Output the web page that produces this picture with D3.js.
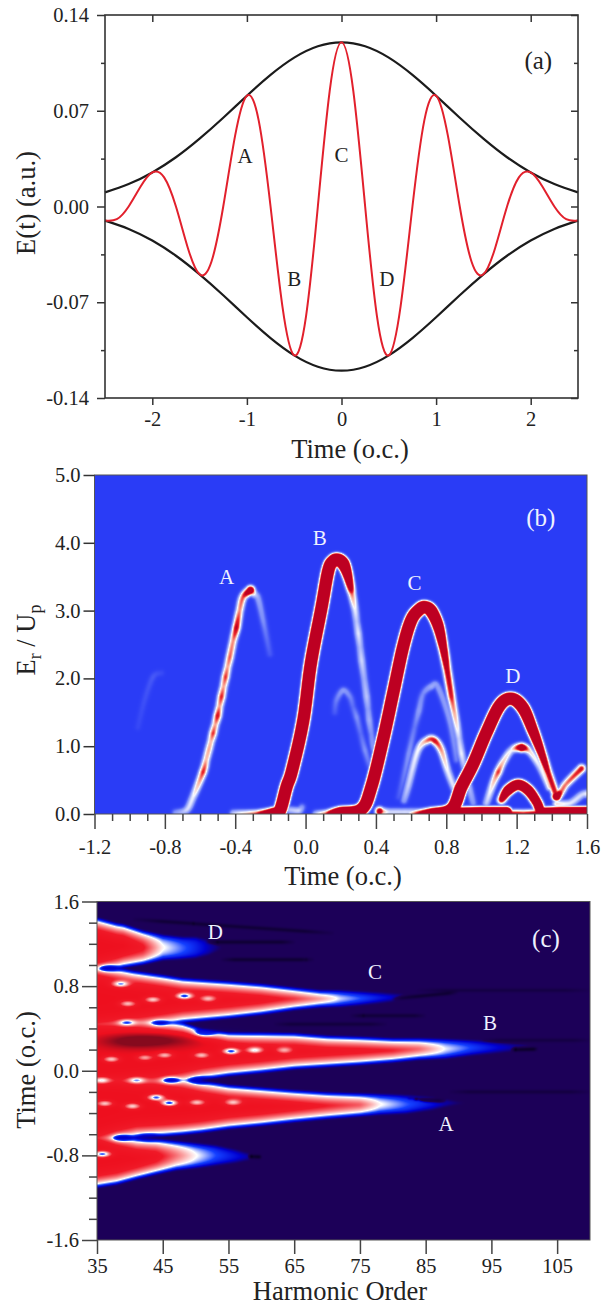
<!DOCTYPE html>
<html lang="en">
<head>
<meta charset="UTF-8">
<title>Field, return energy and time profile</title>
<script src="https://d3js.org/d3.v7.min.js"></script>
<style>
    html, body { margin: 0; padding: 0; background: #fff; }
    svg { display: block; }
    text { font-family: "Liberation Serif", serif; fill: #222; }
</style>
</head>
<body>
<svg id="fig" width="607" height="1306"></svg>
<script>
// panel (a)
var envTime  = [-2.5,-2.25,-2,-1.75,-1.5,-1.25,-1,-0.75,-0.5,-0.25,0,0.25,0.5,0.75,1,1.25,1.5,1.75,2,2.25,2.5];
var envUpper = [0.0103,0.0164,0.0249,0.0360,0.0496,0.0649,0.0810,0.0962,0.1088,0.1171,0.1200,0.1171,0.1088,0.0962,0.0810,0.0649,0.0496,0.0360,0.0249,0.0164,0.0103];
var envLower = [-0.0103,-0.0164,-0.0249,-0.0360,-0.0496,-0.0649,-0.0810,-0.0962,-0.1088,-0.1171,-0.1200,-0.1171,-0.1088,-0.0962,-0.0810,-0.0649,-0.0496,-0.0360,-0.0249,-0.0164,-0.0103];
var fieldTime = [-2.5,-2.375,-2.25,-2.125,-2,-1.875,-1.75,-1.625,-1.5,-1.375,-1.25,-1.125,-1,-0.875,-0.75,-0.625,-0.5,-0.375,-0.25,-0.125,0,
    0.125,0.25,0.375,0.5,0.625,0.75,0.875,1,1.125,1.25,1.375,1.5,1.625,1.75,1.875,2,2.125,2.25,2.375,2.5];
var fieldValue = [-0.0103,-0.0093,0,0.0144,0.0249,0.0213,0,-0.0301,-0.0496,-0.0404,0,0.0516,0.0810,0.0628,0,-0.0728,-0.1088,-0.0803,0,0.0843,0.1200,
    0.0843,0,-0.0803,-0.1088,-0.0728,0,0.0628,0.0810,0.0516,0,-0.0404,-0.0496,-0.0301,0,0.0213,0.0249,0.0144,0,-0.0093,-0.0103];
var fieldTicks = [-0.14,-0.07,0,0.07,0.14];
var fieldMinor = [-0.105,-0.035,0.035,0.105];
var timeTicksA = [-2,-1,0,1,2];
var labelsA = [["(a)",2.08,0.107],["A",-1.02,0.037],["C",0,0.038],["B",-0.5,-0.053],["D",0.48,-0.053]];

// panel (b): trajectories as [time, energy, strength]
var ridgeGhost = [[-0.953,1.28,0.012],[-0.915,1.68,0.02],[-0.867,2.02,0.03],[-0.82,2.08,0.015]];
var ridgeA = [[-0.74,0.02,0.1],[-0.677,0.06,0.25],[-0.639,0.255,0.3],[-0.583,0.62,0.85],[-0.565,0.8,0.5],[-0.55,0.95,0.55],[-0.538,1.07,0.5],[-0.526,1.19,0.8],[-0.513,1.32,0.55],[-0.5,1.45,0.95],[-0.489,1.59,0.55],[-0.478,1.73,0.85],[-0.466,1.88,0.55],[-0.455,2.02,0.8],[-0.443,2.17,0.55],[-0.431,2.31,0.7],[-0.412,2.55,0.6],[-0.393,2.75,1.1],[-0.375,3.0,0.6],[-0.355,3.2,0.75],[-0.313,3.30,2.2]];
var ridgeATail = [[-0.313,3.30,2],[-0.29,3.24,0.25],[-0.269,3.17,0.14],[-0.241,2.85,0.09],[-0.203,2.36,0.03]];
var ridgeB = [[-0.41,0.01,0.2],[-0.279,0.0,0.8],[-0.184,0.02,6],[-0.146,0.05,30],[-0.108,0.40,30],[-0.076,0.65,30],[-0.013,1.38,30],[0.030,2.22,30],[0.091,3.05,30],[0.129,3.59,30],[0.157,3.73,30],[0.186,3.75,30],[0.214,3.69,30],[0.237,3.54,6],[0.262,3.27,0.8]];
var ridgeBTail = [[0.262,3.27,0.8],[0.281,3.02,0.3],[0.29,2.84,0.2],[0.300,2.66,0.28],[0.31,2.46,0.18],[0.319,2.26,0.24],[0.333,2.0,0.15],[0.347,1.73,0.2],[0.355,1.55,0.12],[0.362,1.38,0.16],[0.374,1.18,0.09],[0.385,0.99,0.11],[0.42,0.55,0.04]];
var ridgeB2 = [[0.166,1.5,0.03],[0.176,1.68,0.07],[0.214,1.82,0.12],[0.252,1.73,0.08],[0.27,1.58,0.05],[0.29,1.43,0.09],[0.314,1.18,0.05],[0.338,0.94,0.09],[0.366,0.70,0.05]];
var ridgeBlobs = [[-0.09,0.06,0.2],[-0.04,0.05,0.25],[-0.02,0.1,0.1]];
var ridgeC = [[0.06,0.0,0.2],[0.12,0.0,0.8],[0.1935,0.03,6],[0.317,0.07,30],[0.374,0.40,30],[0.44,1.09,30],[0.497,1.77,30],[0.554,2.46,30],[0.601,2.86,30],[0.649,3.02,30],[0.681,3.05,30],[0.715,2.99,30],[0.753,2.78,14],[0.782,2.46,3],[0.805,2.12,1.2],[0.829,1.73,0.9]];
var ridgeCTail = [[0.829,1.73,0.9],[0.858,1.33,0.4],[0.872,1.11,0.22],[0.886,0.89,0.3],[0.905,0.67,0.16],[0.924,0.45,0.22],[0.953,0.16,0.1]];
var ridgeC2 = [[0.53,0.25,0.03],[0.554,0.50,0.06],[0.587,0.89,0.1],[0.62,1.28,0.06],[0.644,1.52,0.12],[0.668,1.77,0.08],[0.715,1.88,0.15],[0.753,1.87,0.12],[0.82,1.38,0.12],[0.858,0.8,0.07]];
var ridgeC3 = [[0.56,0.2,0.12],[0.582,0.40,0.22],[0.639,0.94,0.32],[0.696,1.09,0.7],[0.734,1.08,1.0],[0.772,0.94,0.6],[0.81,0.62,0.3],[0.858,0.30,0.25]];
var ridgeCBlobs = [[0.421,0.04,1.5],[0.478,0.03,0.25],[0.687,0.03,0.25]];
var ridgeD = [[0.60,0.0,0.4],[0.706,0.02,3],[0.829,0.07,30],[0.886,0.40,30],[0.953,0.74,30],[1.028,1.20,30],[1.104,1.60,30],[1.171,1.70,30],[1.237,1.56,30],[1.294,1.22,10],[1.342,0.89,2.5],[1.38,0.60,1.1],[1.427,0.26,0.9]];
var ridgeD2 = [[1.028,0.16,0.2],[1.066,0.45,0.45],[1.095,0.62,0.8],[1.124,0.77,0.45],[1.171,0.94,0.3],[1.228,0.98,2.2],[1.275,0.92,0.4],[1.332,0.70,0.28],[1.389,0.40,0.45]];
var ridgeD3 = [[1.114,0.21,1.2],[1.152,0.35,7],[1.209,0.43,9],[1.266,0.35,8],[1.313,0.18,5],[1.332,0.06,5]];
var ridgeFloor1 = [[0.876,0.02,8],[1.0,0.02,14],[1.142,0.02,14]];
var ridgeFloor2 = [[1.332,0.02,6],[1.45,0.02,14],[1.6,0.02,16]];
var ridgeFloor3 = [[1.142,0.0,1.2],[1.24,0.0,0.9],[1.33,0.0,1.5]];
var ridgeRight1 = [[1.427,0.26,3],[1.455,0.34,0.7],[1.484,0.45,0.65],[1.569,0.67,1.0]];
var ridgeRight2 = [[1.427,0.15,0.4],[1.503,0.16,0.28],[1.569,0.28,0.25],[1.6,0.3,0.3]];
var ridgesB = [ridgeGhost,ridgeA,ridgeATail,ridgeB,ridgeBTail,ridgeB2,ridgeBlobs,ridgeC,ridgeCTail,ridgeC2,ridgeC3,ridgeCBlobs,ridgeD,ridgeD2,ridgeD3,ridgeFloor1,ridgeFloor2,ridgeFloor3,ridgeRight1,ridgeRight2];
var energyTicks = [0,1,2,3,4,5];
var timeTicksB = [-1.2,-0.8,-0.4,0,0.4,0.8,1.2,1.6];
var timeMinorB = [-1.1,-1,-0.9,-0.7,-0.6,-0.5,-0.3,-0.2,-0.1,0.1,0.2,0.3,0.5,0.6,0.7,0.9,1,1.1,1.3,1.4,1.5];
var labelsB = [["(b)",1.337,4.37],["A",-0.449,3.5],["B",0.08,4.07],["C",0.62,3.4],["D",1.178,2.03]];

// panel (c): bursts as [harmonic, upper time, lower time, peak]
var burstD = [[35,1.45,0.90,1],[38,1.40,0.95,1],[39,1.39,0.97,1],[42,1.33,1.0,0.9],[45,1.29,1.04,0.42],[48,1.27,1.05,0.26],[50,1.27,1.06,0.17],[52,1.24,1.09,0.08],[54,1.18,1.15,0]];
var burstC = [[35,1.02,0.34,1],[38,0.98,0.36,1],[40.5,0.95,0.38,1],[45,0.91,0.42,1],[48,0.88,0.45,1],[55,0.85,0.49,1],[60,0.825,0.525,1],[65,0.79,0.57,0.98],[69,0.765,0.595,0.8],[72,0.765,0.60,0.42],[75,0.755,0.615,0.28],[78,0.745,0.635,0.17],[81,0.73,0.66,0.1],[84,0.70,0.69,0]];
var burstB = [[35,0.54,-0.22,1],[40,0.53,-0.20,1],[45,0.49,-0.17,1],[48,0.46,-0.13,1],[51,0.40,-0.09,1],[55,0.365,-0.055,1],[60,0.365,-0.025,1],[65,0.36,0.01,1],[70,0.335,0.03,1],[75,0.325,0.05,1],[80,0.31,0.075,1],[84,0.31,0.10,0.85],[88,0.305,0.11,0.42],[92,0.295,0.14,0.24],[96,0.275,0.165,0.12],[100,0.25,0.195,0.05],[102,0.225,0.21,0]];
var burstA = [[35,0.03,-0.74,1],[38,0.02,-0.68,1],[41,0.0,-0.64,1],[45,-0.02,-0.625,1],[48,-0.05,-0.61,1],[51,-0.09,-0.59,1],[55,-0.13,-0.555,1],[60,-0.155,-0.525,1],[65,-0.18,-0.49,1],[70,-0.20,-0.46,0.95],[75,-0.21,-0.435,0.85],[78,-0.215,-0.42,0.45],[82,-0.225,-0.41,0.26],[86,-0.245,-0.375,0.14],[88,-0.265,-0.345,0.08],[90,-0.29,-0.32,0.03],[91,-0.30,-0.31,0]];
var burstE = [[35,-0.53,-1.11,1],[38,-0.59,-1.08,1],[41,-0.63,-1.03,1],[44,-0.64,-0.985,0.95],[47,-0.66,-0.945,0.7],[50,-0.68,-0.925,0.42],[53,-0.70,-0.90,0.24],[56,-0.74,-0.875,0.14],[58,-0.775,-0.85,0.08],[60,-0.805,-0.825,0]];
var bursts = [burstD,burstC,burstB,burstA,burstE];
// bright spots in the plateau [harmonic, time, drop]
var spots = [[36.7,0.97,0.9],[38.6,0.82,0.7],[39.7,0.634,0.55],[43.5,0.672,0.58],[48.3,0.706,0.85],[51.9,0.681,0.5],
    [39.5,0.455,0.55],[44.5,0.452,0.55],[51.4,0.36,0.9],[37.2,0.109,0.58],[42.3,0.124,0.5],[45.3,0.147,0.55],[50.9,0.147,0.55],
    [55.4,0.184,0.85],[59,0.194,0.65],[63.5,0.194,0.45],[35.7,-0.09,0.55],[41,-0.09,0.55],[46.2,-0.09,0.85],[50.6,-0.09,0.9],
    [44,-0.253,0.85],[46,-0.304,0.9],[36.2,-0.31,0.58],[40.4,-0.335,0.6],[50.2,-0.30,0.55],[55.7,-0.30,0.5],
    [38.8,-0.634,0.9],[35.8,-0.788,0.85],[42.8,-0.63,0.85]];
var darkPatches = [[40,0.28,0.35],[45,0.29,0.3],[52,0.28,0.12]];
// thin dark streaks [h0, t0, h1, t1, depth]
var streaks = [[40.5,1.43,71,1.30,0.2],[51.6,1.216,65,1.216,0.22],[54,1.05,68,1.05,0.22],[80,0.68,89.8,0.74,0.22],
    [83.7,0.76,110,0.76,0.12],[62,0.44,79,0.44,0.16],[73.5,0.52,85,0.52,0.18],[93.8,0.288,110,0.288,0.12],[98,0.2,102,0.205,0.3],
    [88.7,-0.2,110,-0.2,0.14],[81,-0.27,88,-0.285,0.22],[58,-0.81,60,-0.815,0.3]];
var timeTicksC = [-1.6,-0.8,0,0.8,1.6];
var timeMinorC = [-1.4,-1.2,-1,-0.6,-0.4,-0.2,0.2,0.4,0.6,1,1.2,1.4];
var harmonicTicks = [35,45,55,65,75,85,95,105];
var labelsC = [["(c)",103.3,1.25],["D",53,1.31],["C",77.3,0.93],["B",94.8,0.45],["A",88.1,-0.5]];

var svg = d3.select("#fig");
var tickSize = 20.5, titleSize = 26.5;

// d3.format writes a true minus, the figure has a plain hyphen
function hyphen(spec){
    var f = d3.format(spec);
    return function(d){ return f(d).replace("\u2212", "-"); };
}

// simple 1-2-1 pass over the value grid, edges are held
function soften(vals, w, h){
    var out = new Float32Array(vals.length);
    var i, x, y;
    for(y = 0; y < h; y++){
        for(x = 0; x < w; x++){
            i = y*w + x;
            out[i] = (vals[y*w + Math.max(x-1,0)] + 2*vals[i] + vals[y*w + Math.min(x+1,w-1)])/4;
        }
    }
    for(y = 0; y < h; y++){
        for(x = 0; x < w; x++){
            i = y*w + x;
            vals[i] = (out[Math.max(y-1,0)*w + x] + 2*out[i] + out[Math.min(y+1,h-1)*w + x])/4;
        }
    }
}

function paint(g, x0, y0, w, h, vals, color, passes){
    for(var p = 0; p < passes; p++) soften(vals, w, h);
    var canvas = document.createElement("canvas");
    canvas.width = w;
    canvas.height = h;
    var ctx = canvas.getContext("2d");
    var img = ctx.createImageData(w, h);
    for(var i = 0; i < vals.length; i++){
        var c = d3.rgb(color(vals[i]));
        img.data[4*i] = c.r;
        img.data[4*i+1] = c.g;
        img.data[4*i+2] = c.b;
        img.data[4*i+3] = 255;
    }
    ctx.putImageData(img, 0, 0);
    g.append("image")
        .attr("x", x0).attr("y", y0)
        .attr("width", w).attr("height", h)
        .attr("href", canvas.toDataURL());
}

function styleAxis(sel, tickColor){
    sel.select(".domain").remove();
    sel.selectAll("line").attr("stroke", tickColor).attr("stroke-width", 1.5);
    sel.selectAll("text").attr("font-size", tickSize).style("font-family", '"Liberation Serif", serif').attr("fill", "#222");
}

function addLabels(list, x, y, colour, size){
    svg.append("g").selectAll("text").data(list).join("text")
        .attr("x", function(d){ return x(d[1]); })
        .attr("y", function(d){ return y(d[2]); })
        .attr("text-anchor", "middle")
        .attr("dominant-baseline", "central")
        .attr("font-size", function(d){ return d[0].length > 1 ? size + 4 : size; })
        .style("fill", colour)
        .text(function(d){ return d[0]; });
}

function yTitle(cy, build){
    var t = svg.append("text")
        .attr("transform", "translate(35," + cy + ") rotate(-90)")
        .attr("text-anchor", "middle")
        .attr("font-size", titleSize);
    build(t);
}

function xTitle(cx, base, txt){
    svg.append("text").attr("x", cx).attr("y", base)
        .attr("text-anchor", "middle").attr("font-size", titleSize).text(txt);
}

// ---------- panel (a) ----------
function drawA(){
    var x = d3.scaleLinear().domain([-2.5,2.5]).range([105,578]);
    var y = d3.scaleLinear().domain([-0.14,0.14]).range([398,15]);
    var line = d3.line().curve(d3.curveNatural)
        .x(function(d){ return x(d[0]); })
        .y(function(d){ return y(d[1]); });

    svg.append("path").datum(d3.zip(envTime, envUpper)).attr("d", line)
        .attr("fill", "none").attr("stroke", "#1b1b1b").attr("stroke-width", 2.2);
    svg.append("path").datum(d3.zip(envTime, envLower)).attr("d", line)
        .attr("fill", "none").attr("stroke", "#1b1b1b").attr("stroke-width", 2.2);
    svg.append("path").datum(d3.zip(fieldTime, fieldValue)).attr("d", line)
        .attr("fill", "none").attr("stroke", "#e2202c").attr("stroke-width", 2);

    svg.append("rect").attr("x", 105).attr("y", 15).attr("width", 473).attr("height", 383)
        .attr("fill", "none").attr("stroke", "#333").attr("stroke-width", 1.6);

    svg.append("g").attr("transform", "translate(105,0)")
        .call(d3.axisLeft(y).tickValues(fieldTicks).tickFormat(hyphen(".2f")).tickSize(8).tickPadding(8))
        .call(styleAxis, "#333");
    svg.append("g").attr("transform", "translate(105,0)")
        .call(d3.axisLeft(y).tickValues(fieldMinor).tickFormat("").tickSize(4))
        .call(styleAxis, "#333");
    svg.append("g").attr("transform", "translate(578,0)")
        .call(d3.axisLeft(y).tickValues(fieldTicks).tickFormat("").tickSize(7))
        .call(styleAxis, "#333");
    svg.append("g").attr("transform", "translate(578,0)")
        .call(d3.axisLeft(y).tickValues(fieldMinor).tickFormat("").tickSize(4))
        .call(styleAxis, "#333");
    svg.append("g").attr("transform", "translate(0,398)")
        .call(d3.axisBottom(x).tickValues(timeTicksA).tickFormat(hyphen("d")).tickSize(7).tickPadding(6))
        .call(styleAxis, "#333");
    svg.append("g").attr("transform", "translate(0,15)")
        .call(d3.axisBottom(x).tickValues(timeTicksA).tickFormat("").tickSize(7))
        .call(styleAxis, "#333");

    addLabels(labelsA, x, y, "#222", 21);
    xTitle(350, 458, "Time (o.c.)");
    yTitle(203, function(t){ t.text("E(t) (a.u.)"); });
}

// ---------- panel (b) ----------
function catmull(points){
    var out = [];
    for(var i = 0; i < points.length - 1; i++){
        var p0 = points[Math.max(i-1,0)], p1 = points[i], p2 = points[i+1], p3 = points[Math.min(i+2,points.length-1)];
        var steps = Math.max(2, Math.ceil(Math.hypot(p2[0]-p1[0], p2[1]-p1[1])));
        for(var k = 0; k < steps; k++){
            var u = k/steps, u2 = u*u, u3 = u2*u;
            out.push([
                0.5*(2*p1[0] + (p2[0]-p0[0])*u + (2*p0[0]-5*p1[0]+4*p2[0]-p3[0])*u2 + (3*p1[0]-p0[0]-3*p2[0]+p3[0])*u3),
                0.5*(2*p1[1] + (p2[1]-p0[1])*u + (2*p0[1]-5*p1[1]+4*p2[1]-p3[1])*u2 + (3*p1[1]-p0[1]-3*p2[1]+p3[1])*u3),
                p1[2]*Math.pow(p2[2]/p1[2], u)
            ]);
        }
    }
    out.push(points[points.length-1]);
    return out;
}

function drawB(){
    var x = d3.scaleLinear().domain([-1.2,1.6]).range([94.5,587]);
    var y = d3.scaleLinear().domain([0,5]).range([814,475]);
    var w = 492, h = 339, x0 = 95, y0 = 475;
    var vals = new Float32Array(w*h);
    var sigma = 3.1, reach = 10;

    ridgesB.forEach(function(r){
        var pts = catmull(r.map(function(d){ return [x(d[0]) - x0, y(d[1]) - y0, d[2]]; }));
        pts.forEach(function(p){
            var xa = Math.max(0, Math.floor(p[0]-reach)), xb = Math.min(w-1, Math.ceil(p[0]+reach));
            var ya = Math.max(0, Math.floor(p[1]-reach)), yb = Math.min(h-1, Math.ceil(p[1]+reach));
            for(var j = ya; j <= yb; j++){
                for(var i = xa; i <= xb; i++){
                    var dx = i + 0.5 - p[0], dy = j + 0.5 - p[1];
                    var v = p[2]*Math.exp(-(dx*dx + dy*dy)/(sigma*sigma));
                    if(v > 1.15) v = 1.15;
                    if(v > vals[j*w+i]) vals[j*w+i] = v;
                }
            }
        });
    });

    var color = d3.scaleLinear()
        .domain([0,0.08,0.3,0.5,0.75,1])
        .range(["#2a3cf6","#7a8cfa","#f6f8ff","#fab6a2","#ea2a2e","#bd0022"])
        .clamp(true);

    var g = svg.append("g");
    paint(g, x0, y0, w, h, vals, color, 1);

    svg.append("rect").attr("x", 94.5).attr("y", 475).attr("width", 492.5).attr("height", 339)
        .attr("fill", "none").attr("stroke", "#555").attr("stroke-width", 1);

    svg.append("g").attr("transform", "translate(94.5,0)")
        .call(d3.axisLeft(y).tickValues(energyTicks).tickFormat(hyphen(".1f")).tickSize(11).tickPadding(3))
        .call(styleAxis, "#333");
    svg.append("g").attr("transform", "translate(0,814)")
        .call(d3.axisBottom(x).tickValues(timeTicksB).tickFormat(hyphen(".1f")).tickSize(15).tickPadding(10))
        .call(styleAxis, "#444");
    svg.append("g").attr("transform", "translate(0,814)")
        .call(d3.axisBottom(x).tickValues(timeMinorB).tickFormat("").tickSize(7))
        .call(styleAxis, "#444");

    addLabels(labelsB, x, y, "#eef1ff", 21);
    xTitle(343, 885, "Time (o.c.)");
    yTitle(640, function(t){
        t.append("tspan").text("E");
        t.append("tspan").attr("dy", 6).attr("font-size", 18).text("r");
        t.append("tspan").attr("dy", -6).text(" / U");
        t.append("tspan").attr("dy", 6).attr("font-size", 18).text("p");
    });
}

// ---------- panel (c) ----------
function rowAt(table, h){
    if(h < table[0][0] || h > table[table.length-1][0]) return null;
    var k = d3.bisector(function(d){ return d[0]; }).right(table, h);
    if(k >= table.length) return table[table.length-1];
    var a = table[k-1], b = table[k], u = (h-a[0])/(b[0]-a[0]);
    return [h, a[1]+(b[1]-a[1])*u, a[2]+(b[2]-a[2])*u, a[3]+(b[3]-a[3])*u];
}

function drawC(){
    var x = d3.scaleLinear().domain([35,110]).range([97,590]);
    var y = d3.scaleLinear().domain([-1.6,1.6]).range([1240,901.5]);
    var w = 493, h = 339, x0 = 97, y0 = 901;
    var vals = new Float32Array(w*h);
    var ramp = 11;

    for(var j = 0; j < h; j++){
        var py = y0 + j + 0.5;
        var t = y.invert(py);
        for(var i = 0; i < w; i++){
            var px = x0 + i + 0.5;
            var hh = x.invert(px);
            var best = 0;
            for(var b = 0; b < bursts.length; b++){
                var r = rowAt(bursts[b], hh);
                if(!r || r[3] <= 0) continue;
                var depth = Math.min(py - y(r[1]), y(r[2]) - py);
                if(depth <= 0) continue;
                var u = depth/(ramp*Math.sqrt(r[3]));
                var v = r[3]*(Math.exp(2*u) - 1)/(Math.exp(2*u) + 1);
                if(v > best) best = v;
            }
            vals[j*w+i] = best;
        }
    }

    // spots, dark patches and streaks sit on top of the bursts
    function stamp(cx, cy, sx, sy, amount){
        var xa = Math.max(0, Math.floor(cx - 3*sx - x0)), xb = Math.min(w-1, Math.ceil(cx + 3*sx - x0));
        var ya = Math.max(0, Math.floor(cy - 3*sy - y0)), yb = Math.min(h-1, Math.ceil(cy + 3*sy - y0));
        for(var j = ya; j <= yb; j++){
            for(var i = xa; i <= xb; i++){
                var dx = (x0 + i + 0.5 - cx)/sx, dy = (y0 + j + 0.5 - cy)/sy;
                var next = vals[j*w+i] + amount*Math.exp(-dx*dx - dy*dy);
                vals[j*w+i] = amount < 0 ? Math.max(next, Math.min(vals[j*w+i], 0.1)) : next;
            }
        }
    }
    spots.forEach(function(s){ stamp(x(s[0]), y(s[1]), 8, 2.8, -s[2]); });
    darkPatches.forEach(function(p){ stamp(x(p[0]), y(p[1]), 30, 7, p[2]); });
    streaks.forEach(function(s){
        var n = Math.ceil(x(s[2]) - x(s[0]));
        for(var k = 0; k <= n; k++){
            var u = k/n;
            var fade = Math.min(1, 6*Math.min(u, 1-u) + 0.15);
            var cx = x(s[0] + (s[2]-s[0])*u), cy = y(s[1] + (s[3]-s[1])*u);
            var col = Math.floor(cx - x0);
            if(col < 0 || col >= w) continue;
            for(var j = Math.max(0, Math.floor(cy-4-y0)); j <= Math.min(h-1, Math.ceil(cy+4-y0)); j++){
                var d = (y0 + j + 0.5 - cy)/1.5;
                if(vals[j*w+col] < 0.15) vals[j*w+col] -= s[4]*fade*Math.exp(-d*d);
            }
        }
    });

    var color = d3.scaleLinear()
        .domain([-0.3,0,0.1,0.22,0.38,0.55,0.8,1,1.3])
        .range(["#05001a","#1c0058","#0000d0","#1440ff","#ffffff","#fba0a0","#f01a28","#ee0f1e","#860a1e"])
        .clamp(true);

    var g = svg.append("g");
    paint(g, x0, y0, w, h, vals, color, 2);

    svg.append("rect").attr("x", 97).attr("y", 901.5).attr("width", 493).attr("height", 338.5)
        .attr("fill", "none").attr("stroke", "#555").attr("stroke-width", 1);

    svg.append("g").attr("transform", "translate(97,0)")
        .call(d3.axisLeft(y).tickValues(timeTicksC).tickFormat(hyphen(".1f")).tickSize(15).tickPadding(3))
        .call(styleAxis, "#444");
    svg.append("g").attr("transform", "translate(97,0)")
        .call(d3.axisLeft(y).tickValues(timeMinorC).tickFormat("").tickSize(8))
        .call(styleAxis, "#444");
    svg.append("g").attr("transform", "translate(0,1240)")
        .call(d3.axisBottom(x).tickValues(harmonicTicks).tickFormat(hyphen("d")).tickSize(14).tickPadding(4))
        .call(styleAxis, "#444");

    addLabels(labelsC, x, y, "#eef1ff", 21);
    xTitle(340, 1300, "Harmonic Order");
    yTitle(1070, function(t){ t.text("Time (o.c.)"); });
}

drawA();
drawB();
drawC();
</script>
</body>
</html>
